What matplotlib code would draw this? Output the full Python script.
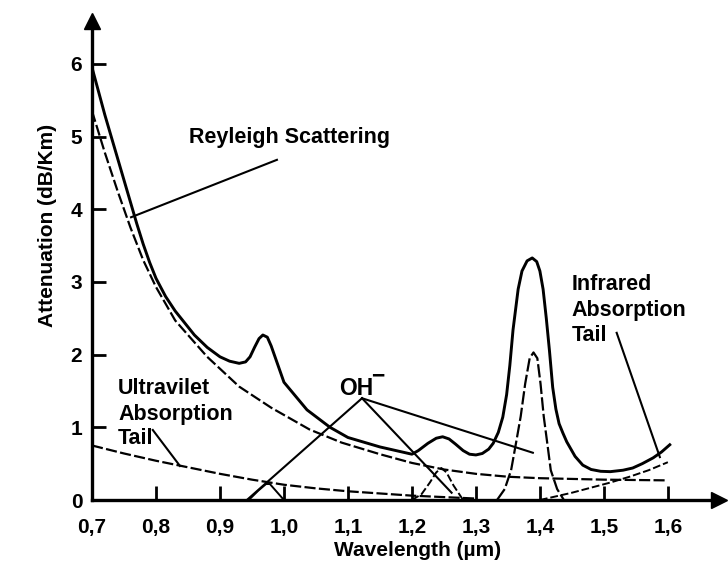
import numpy as np
import matplotlib
matplotlib.use("Agg")
import matplotlib.pyplot as plt

plt.rcParams['font.family'] = ['Liberation Sans', 'DejaVu Sans']
plt.rcParams['font.weight'] = 'bold'

# total attenuation (solid curve)
tot_x = [0.70, 0.72, 0.74, 0.76, 0.77, 0.78, 0.79, 0.80, 0.815, 0.83, 0.86, 0.88, 0.90,
         0.915, 0.93, 0.94, 0.947, 0.954, 0.961, 0.967, 0.974, 0.98, 0.99, 1.00, 1.036,
         1.072, 1.10, 1.15, 1.20, 1.21, 1.225, 1.238, 1.248, 1.258, 1.268, 1.28, 1.29,
         1.30, 1.31, 1.32, 1.327, 1.335, 1.342, 1.348, 1.353, 1.358, 1.366, 1.372, 1.38,
         1.388, 1.395, 1.40, 1.405, 1.41, 1.415, 1.42, 1.425, 1.43, 1.436, 1.442, 1.455,
         1.467, 1.48, 1.495, 1.51, 1.53, 1.545, 1.56, 1.577, 1.59, 1.603]
tot_v = [5.95, 5.3, 4.7, 4.1, 3.8, 3.52, 3.27, 3.05, 2.8, 2.6, 2.27, 2.10, 1.97,
         1.91, 1.88, 1.90, 1.97, 2.10, 2.22, 2.27, 2.24, 2.12, 1.87, 1.62, 1.24,
         1.00, 0.86, 0.73, 0.63, 0.68, 0.78, 0.85, 0.87, 0.84, 0.77, 0.68, 0.63,
         0.62, 0.64, 0.70, 0.78, 0.93, 1.14, 1.45, 1.85, 2.34, 2.9, 3.15, 3.29,
         3.33, 3.28, 3.15, 2.9, 2.5, 2.05, 1.55, 1.25, 1.05, 0.92, 0.80, 0.60,
         0.48, 0.42, 0.395, 0.39, 0.41, 0.44, 0.50, 0.58, 0.66, 0.76]

# rayleigh scattering (dashed)
ray_x = [0.70, 0.72, 0.74, 0.76, 0.78, 0.80, 0.83, 0.88, 0.93, 0.98, 1.04, 1.09, 1.15,
         1.20, 1.25, 1.30, 1.35, 1.40, 1.50, 1.60]
ray_v = [5.35, 4.78, 4.25, 3.75, 3.3, 2.93, 2.47, 1.97, 1.56, 1.27, 0.97, 0.79, 0.63,
         0.51, 0.42, 0.36, 0.32, 0.30, 0.28, 0.27]

# ultraviolet absorption tail
uv_x = [0.70, 0.75, 0.80, 0.85, 0.90, 0.95, 1.00, 1.05, 1.10, 1.15, 1.20, 1.25, 1.30]
uv_v = [0.75, 0.64, 0.54, 0.45, 0.36, 0.28, 0.21, 0.16, 0.12, 0.09, 0.06, 0.04, 0.02]

# infrared absorption tail
ir_x = [1.40, 1.42, 1.45, 1.48, 1.51, 1.54, 1.57, 1.60]
ir_v = [0.0, 0.04, 0.10, 0.17, 0.24, 0.32, 0.41, 0.52]

# OH- absorption peaks
oh1_x = [0.945, 0.96, 0.972, 0.978, 0.985, 1.00]
oh1_v = [0.0, 0.13, 0.22, 0.22, 0.15, 0.0]
oh2_x = [1.20, 1.215, 1.228, 1.238, 1.246, 1.254, 1.265, 1.28]
oh2_v = [0.0, 0.08, 0.24, 0.38, 0.44, 0.38, 0.2, 0.0]
oh3_x = [1.333, 1.345, 1.355, 1.363, 1.37, 1.377, 1.384, 1.39, 1.396, 1.401, 1.406,
         1.412, 1.417, 1.427, 1.4375]
oh3_v = [0.0, 0.15, 0.41, 0.8, 1.15, 1.6, 1.95, 2.03, 1.95, 1.6, 1.15,
         0.75, 0.41, 0.15, 0.0]

xticks = [0.7, 0.8, 0.9, 1.0, 1.1, 1.2, 1.3, 1.4, 1.5, 1.6]
xlabels = ['0,7', '0,8', '0,9', '1,0', '1,1', '1,2', '1,3', '1,4', '1,5', '1,6']
yticks = [0, 1, 2, 3, 4, 5, 6]

fig = plt.figure(figsize=(7.28, 5.66), dpi=100)
ax = fig.add_axes([0.1264, 0.1166, 0.8613, 0.8463])

ax.plot(tot_x, tot_v, color='k', lw=2.1)
ax.plot(ray_x, ray_v, color='k', lw=1.6, dashes=(5, 1.5))
ax.plot(uv_x, uv_v, color='k', lw=1.6, dashes=(5, 1.5))
ax.plot(ir_x, ir_v, color='k', lw=1.4, dashes=(4, 1.5))
ax.plot(oh1_x, oh1_v, color='k', lw=1.4)
ax.plot(oh2_x, oh2_v, color='k', lw=1.4, dashes=(4, 1.5))
ax.plot(oh3_x, oh3_v, color='k', lw=1.6, dashes=(6, 1.5))

# leader lines
lk = dict(color='k', lw=1.5)
ax.plot([0.989, 0.761], [4.68, 3.89], **lk)
ax.plot([0.795, 0.8375], [0.963, 0.468], **lk)
ax.plot([1.122, 0.942], [1.40, 0.0], **lk)
ax.plot([1.122, 1.262], [1.40, 0.10], **lk)
ax.plot([1.122, 1.389], [1.40, 0.65], **lk)
ax.plot([1.52, 1.5875], [2.30, 0.59], **lk)

fs = 15.5
ax.text(1.009, 4.99, 'Reyleigh Scattering', ha='center', va='center', fontsize=fs, fontweight='bold')
for txt, yv in zip(['Ultravilet', 'Absorption', 'Tail'], [1.53, 1.17, 0.85]):
    ax.text(0.7406, yv, txt, ha='left', va='center', fontsize=fs, fontweight='bold')
for txt, yv in zip(['Infrared', 'Absorption', 'Tail'], [2.96, 2.61, 2.27]):
    ax.text(1.45, yv, txt, ha='left', va='center', fontsize=fs, fontweight='bold')
ax.text(1.1125, 1.54, 'OH', ha='center', va='center', fontsize=fs + 1, fontweight='bold')
ax.text(1.147, 1.70, '\u2212', ha='center', va='center', fontsize=fs + 1, fontweight='bold')

ax.set_xlim(0.7, 1.68)
ax.set_ylim(0, 6.59)
for s in ['top', 'right']:
    ax.spines[s].set_visible(False)
for s in ['left', 'bottom']:
    ax.spines[s].set_linewidth(2.4)
ax.plot(1, 0, marker='>', ms=12, color='k', transform=ax.transAxes, clip_on=False)
ax.plot(0, 1, marker='^', ms=12, color='k', transform=ax.transAxes, clip_on=False)

ax.set_xticks(xticks)
ax.set_xticklabels(xlabels, fontsize=15, fontweight='bold')
ax.set_yticks(yticks)
ax.set_yticklabels([str(t) for t in yticks], fontsize=15, fontweight='bold')
ax.tick_params(axis='x', direction='in', length=10, width=2, pad=13)
ax.tick_params(axis='y', direction='in', length=10, width=2, pad=7)

fig.text(48 / 728, 1 - 225 / 566, 'Attenuation (dB/Km)', rotation=90, ha='center', va='center',
         fontsize=15, fontweight='bold')
fig.text(418 / 728, 1 - 551 / 566, 'Wavelength (\u00b5m)', ha='center', va='center',
         fontsize=15, fontweight='bold')

fig.savefig('out.png', dpi=100)
